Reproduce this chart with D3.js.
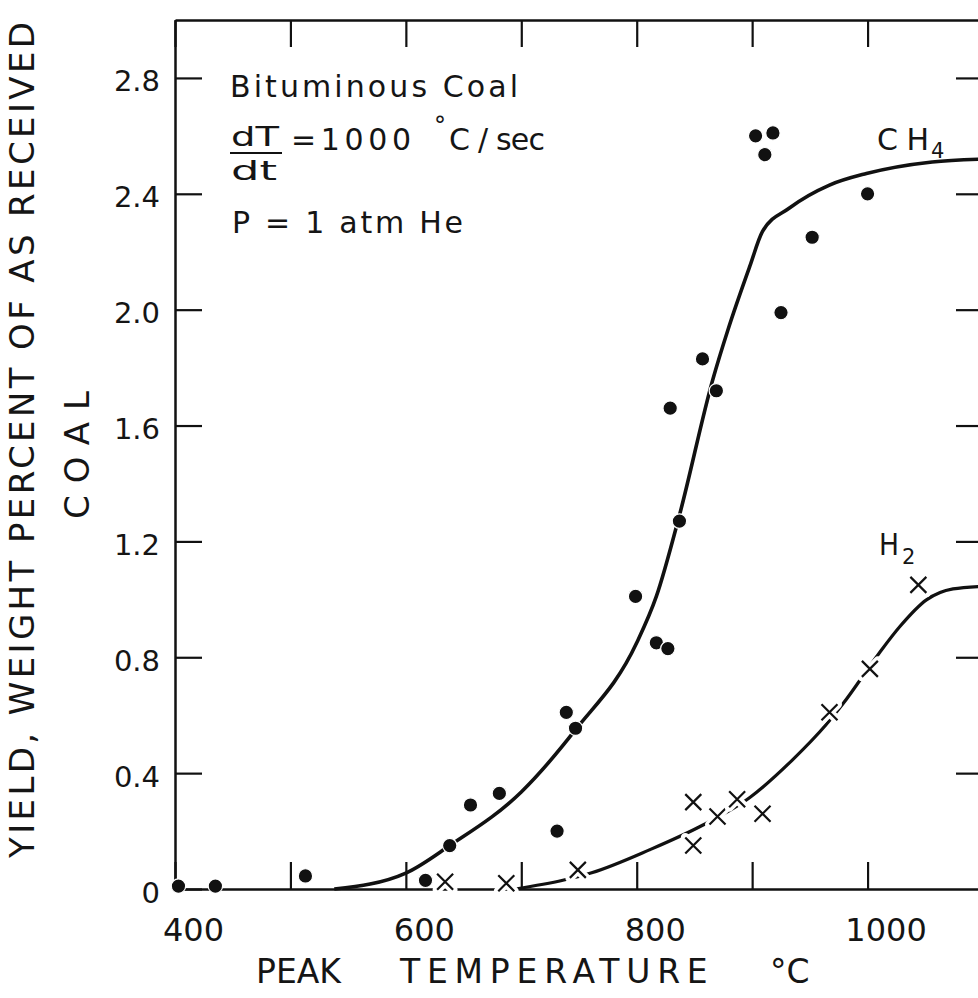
<!DOCTYPE html>
<html>
<head>
<meta charset="utf-8">
<script src="https://cdn.jsdelivr.net/npm/d3@7"></script>
<style>
  body { margin: 0; background: #fff; }
  text { font-family: "DejaVu Sans", sans-serif; font-weight: 400; fill: #151515; }
</style>
</head>
<body>
<svg width="978" height="998"></svg>
<script>
// measured points, methane (filled dots)
const ch4Temp  = [403, 435, 513, 617, 638, 656, 681, 731, 739, 747, 799, 817, 827, 837, 829, 857, 869, 903, 918, 911, 925, 952, 1000];
const ch4Yield = [0.01, 0.01, 0.045, 0.03, 0.15, 0.29, 0.33, 0.20, 0.61, 0.555, 1.01, 0.85, 0.83, 1.27, 1.66, 1.83, 1.72, 2.60, 2.61, 2.535, 1.99, 2.25, 2.40];

// measured points, hydrogen (crosses)
const h2Temp  = [634, 687, 749, 849, 849, 870, 887, 909, 967, 1002, 1044];
const h2Yield = [0.025, 0.02, 0.066, 0.30, 0.15, 0.25, 0.31, 0.26, 0.61, 0.76, 1.05];

// hand drawn curves
const ch4CurveT = [538, 600, 638, 700, 747, 800, 817, 837, 866, 879, 898, 909, 932, 967, 999, 1056, 1100];
const ch4CurveY = [0, 0.055, 0.15, 0.335, 0.55, 0.85, 1.01, 1.29, 1.76, 1.93, 2.15, 2.27, 2.35, 2.43, 2.47, 2.51, 2.52];
const h2CurveT = [695, 736, 761, 811, 857, 898, 935, 964, 979, 1010, 1028, 1051, 1074, 1100];
const h2CurveY = [0, 0.03, 0.056, 0.135, 0.22, 0.316, 0.446, 0.567, 0.641, 0.814, 0.906, 0.998, 1.036, 1.045];

const xTicks = [400, 500, 600, 700, 800, 900, 1000, 1100];
const xLabels = [400, 600, 800, 1000];
const yTicks = [0, 0.4, 0.8, 1.2, 1.6, 2.0, 2.4, 2.8];

const svg = d3.select("svg");
const x = d3.scaleLinear().domain([400, 1100]).range([175, 983]);
const y = d3.scaleLinear().domain([0, 3]).range([889, 20]);

const tick = 27;

// frame + inward ticks
const bottom = svg.append("g").attr("transform", `translate(0,${y(0)})`)
  .call(d3.axisBottom(x).tickValues(xTicks).tickSizeInner(-tick).tickSizeOuter(0).tickPadding(29)
    .tickFormat(d => xLabels.includes(d) ? d : ""));
bottom.selectAll("text").attr("x", 18).attr("font-size", 32);

const left = svg.append("g").attr("transform", `translate(${x(400)},0)`)
  .call(d3.axisLeft(y).tickValues(yTicks).tickSizeInner(-tick).tickSizeOuter(0).tickPadding(15)
    .tickFormat(d => d === 0 ? "0" : d3.format(".1f")(d)));
left.selectAll("text").attr("dy", "0.45em").attr("font-size", 29);

svg.append("g").attr("transform", `translate(0,${y(3)})`)
  .call(d3.axisTop(x).tickValues(xTicks).tickSizeInner(-tick).tickSizeOuter(0).tickFormat(""));
svg.append("g").attr("transform", `translate(${x(1100)},0)`)
  .call(d3.axisRight(y).tickValues(yTicks.slice(1)).tickSizeInner(-tick).tickSizeOuter(0).tickFormat(""));

svg.selectAll(".domain").attr("stroke", "#111").attr("stroke-width", 2.5);
svg.selectAll(".tick line").attr("stroke", "#111").attr("stroke-width", 2.2);
svg.selectAll(".tick text").attr("fill", "#151515").attr("font-family", null);

// curves
const line = d3.line().curve(d3.curveMonotoneX);
const ch4Line = ch4CurveT.map((t, i) => [x(t), y(ch4CurveY[i])]);
const h2Line = h2CurveT.map((t, i) => [x(t), y(h2CurveY[i])]);

svg.append("path").attr("d", line(ch4Line))
  .attr("fill", "none").attr("stroke", "#111").attr("stroke-width", 3.6);
svg.append("path").attr("d", line(h2Line))
  .attr("fill", "none").attr("stroke", "#111").attr("stroke-width", 3.2);

// dots
svg.append("g").selectAll("circle")
  .data(ch4Temp.map((t, i) => [t, ch4Yield[i]]))
  .join("circle")
  .attr("cx", d => x(d[0])).attr("cy", d => y(d[1])).attr("r", 7.2)
  .attr("fill", "#111").attr("stroke", "#fff").attr("stroke-width", 1.2);

// crosses, white halo breaks the H2 line like the original
const cs = 8;
const crosses = svg.append("g").selectAll("g")
  .data(h2Temp.map((t, i) => [t, h2Yield[i]]))
  .join("g")
  .attr("transform", d => `translate(${x(d[0])},${y(d[1])})`);
crosses.append("path").attr("d", `M${-cs},${-cs}L${cs},${cs}M${-cs},${cs}L${cs},${-cs}`)
  .attr("stroke", "#fff").attr("stroke-width", 9).attr("stroke-linecap", "round");
crosses.append("path").attr("d", `M${-cs},${-cs}L${cs},${cs}M${-cs},${cs}L${cs},${-cs}`)
  .attr("stroke", "#111").attr("stroke-width", 2.2);

// annotation block
const fit = "spacingAndGlyphs";
const note = svg.append("g").attr("font-size", 30);
note.append("text").attr("x", 230).attr("y", 97).attr("textLength", 288).attr("lengthAdjust", "spacing").text("Bituminous Coal");
note.append("text").attr("x", 231).attr("y", 146).attr("font-size", 26).attr("textLength", 48).attr("lengthAdjust", fit).text("dT");
note.append("line").attr("x1", 230).attr("x2", 282).attr("y1", 153).attr("y2", 153)
  .attr("stroke", "#111").attr("stroke-width", 2.2);
note.append("text").attr("x", 231).attr("y", 180).attr("font-size", 26).attr("textLength", 46).attr("lengthAdjust", fit).text("dt");
note.append("text").attr("x", 291).attr("y", 150).attr("textLength", 120).attr("lengthAdjust", "spacing").text("=1000");
note.append("text").attr("x", 434).attr("y", 134).attr("font-size", 24).text("°");
note.append("text").attr("x", 449).attr("y", 150).attr("textLength", 96).attr("lengthAdjust", "spacing").text("C / sec");
note.append("text").attr("x", 232).attr("y", 233).attr("textLength", 231).attr("lengthAdjust", "spacing").text("P = 1 atm  He");

// series labels
const lab = svg.append("g").attr("font-size", 30);
lab.append("text").attr("x", 877).attr("y", 150).attr("textLength", 52).attr("lengthAdjust", "spacing").text("CH");
lab.append("text").attr("x", 931).attr("y", 158).attr("font-size", 21).text("4");
lab.append("text").attr("x", 879).attr("y", 555).attr("textLength", 20).attr("lengthAdjust", fit).text("H");
lab.append("text").attr("x", 902).attr("y", 564).attr("font-size", 21).text("2");

// axis titles
svg.append("text").attr("transform", "translate(34,858) rotate(-90)")
  .attr("font-size", 34).attr("textLength", 836).attr("lengthAdjust", "spacing")
  .text("YIELD, WEIGHT PERCENT OF AS RECEIVED");
svg.append("text").attr("transform", "translate(89,455) rotate(-90)")
  .attr("font-size", 34).attr("text-anchor", "middle").attr("textLength", 128).attr("lengthAdjust", "spacing")
  .text("COAL");
const xt = svg.append("text").attr("y", 983).attr("font-size", 33);
xt.append("tspan").attr("x", 256).text("PEAK ");
xt.append("tspan").attr("x", 400).attr("textLength", 325).attr("lengthAdjust", "spacing").text("TEMPERATURE ");
xt.append("tspan").attr("x", 770).text("°C");
</script>
</body>
</html>
